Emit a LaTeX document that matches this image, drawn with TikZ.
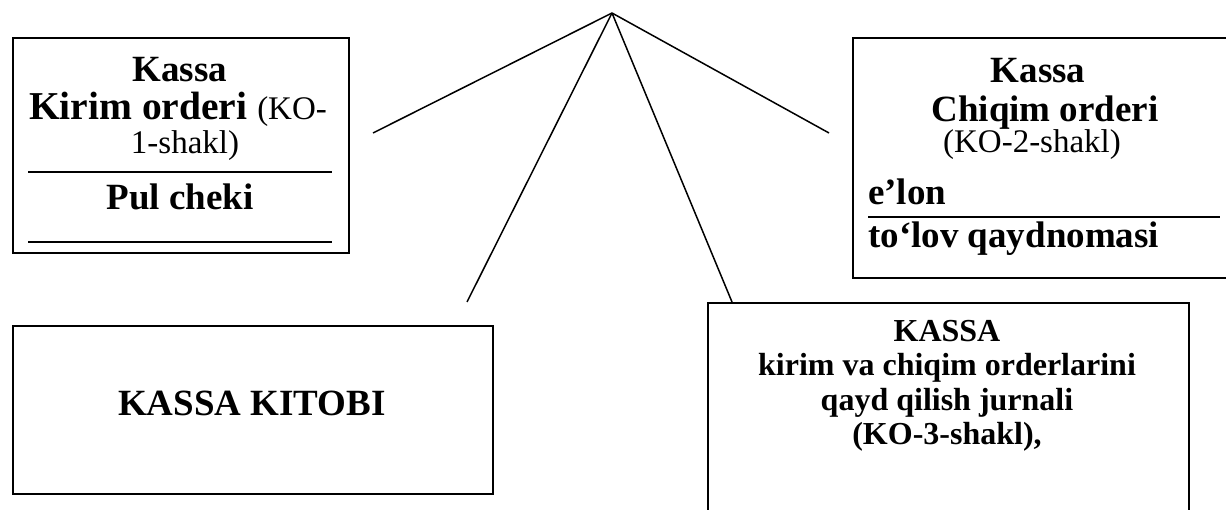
\documentclass[tikz,border=0pt]{standalone}
\usepackage{fontspec}
\setmainfont{Liberation Serif}
\newcommand{\bigbf}{\fontsize{37}{42}\selectfont\bfseries}
\newcommand{\widebf}{\fontsize{39.5}{44}\selectfont\bfseries}
\newcommand{\midbf}{\fontsize{32}{36}\selectfont\bfseries}
\newcommand{\smallrm}{\fontsize{33}{38}\selectfont\mdseries}
\begin{document}
\begin{tikzpicture}[x=1pt,y=-1pt,
  frame/.style={draw=black, line width=2pt, inner sep=0pt, anchor=north west},
  rule/.style={line width=2.5pt},
  spoke/.style={line width=1.5pt},
  txt/.style={inner sep=0pt, anchor=base},
  ltxt/.style={inner sep=0pt, anchor=base west}]
\useasboundingbox (0,0) rectangle (1226,510);
\clip (0,0) rectangle (1226,510);

% boxes
\node[frame, minimum width=336pt, minimum height=215pt] (kirim) at (12,37) {};
\node[frame, minimum width=390pt, minimum height=240pt] (chiqim) at (852,37) {};
\node[frame, minimum width=480pt, minimum height=168pt] (kitob) at (12,325) {};
\node[frame, minimum width=481pt, minimum height=260pt] (jurnal) at (707,302) {};

% left upper box: receipt order and cheque
\node[txt] (k1) at (180,82) {\bigbf Kassa};
\node[txt] (k2) at (178,120) {{\widebf Kirim orderi }{\smallrm (KO-}};
\node[txt] (k3) at (185,154) {\smallrm 1-shakl)};
\draw[rule] (28,172) -- (332,172);
\node[txt] (k4) at (180,210) {\bigbf Pul cheki};
\draw[rule] (28,242) -- (332,242);

% right upper box: expense order
\node[txt] (c1) at (1038,83) {\bigbf Kassa};
\node[txt] (c2) at (1045,122) {\bigbf Chiqim orderi};
\node[txt] (c3) at (1032,153) {\smallrm (KO-2-shakl)};
\node[ltxt] (c4) at (868,205) {\bigbf e’lon};
\draw[rule] (868,217) -- (1220,217);
\node[ltxt] (c5) at (868,248) {\bigbf to‘lov qaydnomasi};

% cash book
\node[txt] (kb) at (252,415) {\bigbf KASSA KITOBI};

% journal
\node[txt] (j1) at (947,342) {\midbf KASSA};
\node[txt] (j2) at (947,376) {\midbf kirim va chiqim orderlarini};
\node[txt] (j3) at (947,410) {\midbf qayd qilish jurnali};
\node[txt] (j4) at (947,444) {\midbf (KO-3-shakl),};

% fan of connecting lines
\coordinate (apex) at (612,13);
\coordinate (endL) at (373,133);
\coordinate (endR) at (829,133);
\coordinate (endDL) at (467,302);
\coordinate (endDR) at (732,302);
\draw[spoke] (apex) -- (endL);
\draw[spoke] (apex) -- (endR);
\draw[spoke] (apex) -- (endDL);
\draw[spoke] (apex) -- (endDR);
\end{tikzpicture}
\end{document}
